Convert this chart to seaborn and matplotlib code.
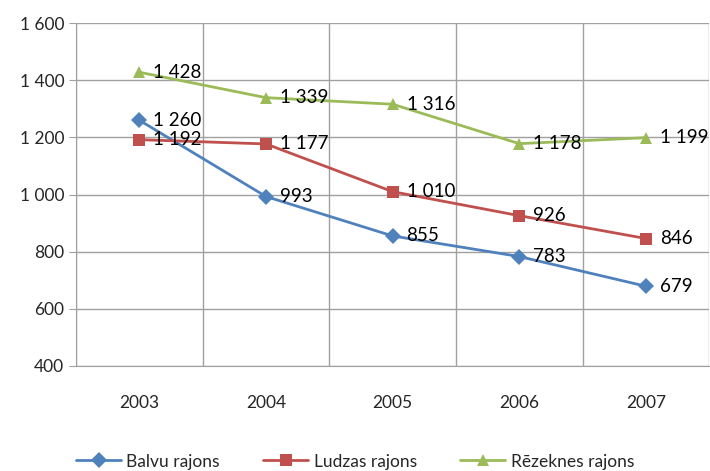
import pandas as pd
import matplotlib.pyplot as plt
import seaborn as sns
from matplotlib.ticker import FuncFormatter, FixedLocator

# Datos
years = ['2003', '2004', '2005', '2006', '2007']
balvu = [1260, 993, 855, 783, 679]
ludzas = [1192, 1177, 1010, 926, 846]
rezeknes = [1428, 1339, 1316, 1178, 1199]
series_names = ['Balvu rajons', 'Ludzas rajons', 'Rēzeknes rajons']
colors = ['#4F81BD', '#C0504D', '#9BBB59']
markers = ['D', 's', '^']

rows = []
for name, vals in zip(series_names, [balvu, ludzas, rezeknes]):
    for i, v in enumerate(vals):
        rows.append({'x': i, 'value': v, 'serie': name})
df = pd.DataFrame(rows)

sns.set_style('white')
plt.rcParams['font.family'] = ['Lato', 'DejaVu Sans']

fig = plt.figure(figsize=(7.1, 4.71), dpi=100)
ax = fig.add_axes([0.107, 0.223, 0.892, 0.728])

sns.lineplot(data=df, x='x', y='value', hue='serie', style='serie',
             palette=dict(zip(series_names, colors)),
             markers=dict(zip(series_names, markers)),
             dashes=False, linewidth=2, markersize=8,
             markeredgewidth=0, ax=ax, legend=True)

def fmt(v):
    return f'{int(v):,}'.replace(',', ' ')

# Etiquetas de datos
for vals in [balvu, ludzas, rezeknes]:
    for i, v in enumerate(vals):
        ax.annotate(fmt(v), (i, v), xytext=(10, 0), textcoords='offset points',
                    ha='left', va='center', fontsize=13.5, color='black')

ax.set_xlim(-0.5, 4.5)
ax.set_ylim(400, 1600)
ax.set_yticks(range(400, 1601, 200))
ax.yaxis.set_major_formatter(FuncFormatter(lambda v, p: fmt(v)))
ax.set_xticks(range(len(years)))
ax.set_xticklabels(years)
ax.xaxis.set_minor_locator(FixedLocator([i - 0.5 for i in range(len(years) + 1)]))
ax.tick_params(axis='x', which='major', length=0, labelsize=12.5, pad=21)
ax.tick_params(axis='x', which='minor', length=6, color='#a0a0a0', width=1)
ax.tick_params(axis='y', length=5, color='#a0a0a0', labelsize=12.5, left=True)
ax.grid(axis='y', which='major', color='#a0a0a0', linewidth=1)
ax.grid(axis='x', which='minor', color='#a0a0a0', linewidth=1)
ax.set_axisbelow(True)
ax.set_xlabel('')
ax.set_ylabel('')
for s in ['top', 'right']:
    ax.spines[s].set_visible(False)
for s in ['left', 'bottom']:
    ax.spines[s].set_color('#a0a0a0')

handles, labels = ax.get_legend_handles_labels()
ax.get_legend().remove()
fig.legend(handles, labels, loc='lower center', bbox_to_anchor=(0.5, -0.03),
           ncol=3, frameon=False, fontsize=12.5, handlelength=2.6,
           columnspacing=2.5, handletextpad=0.3)

fig.savefig('out.png', dpi=100)
